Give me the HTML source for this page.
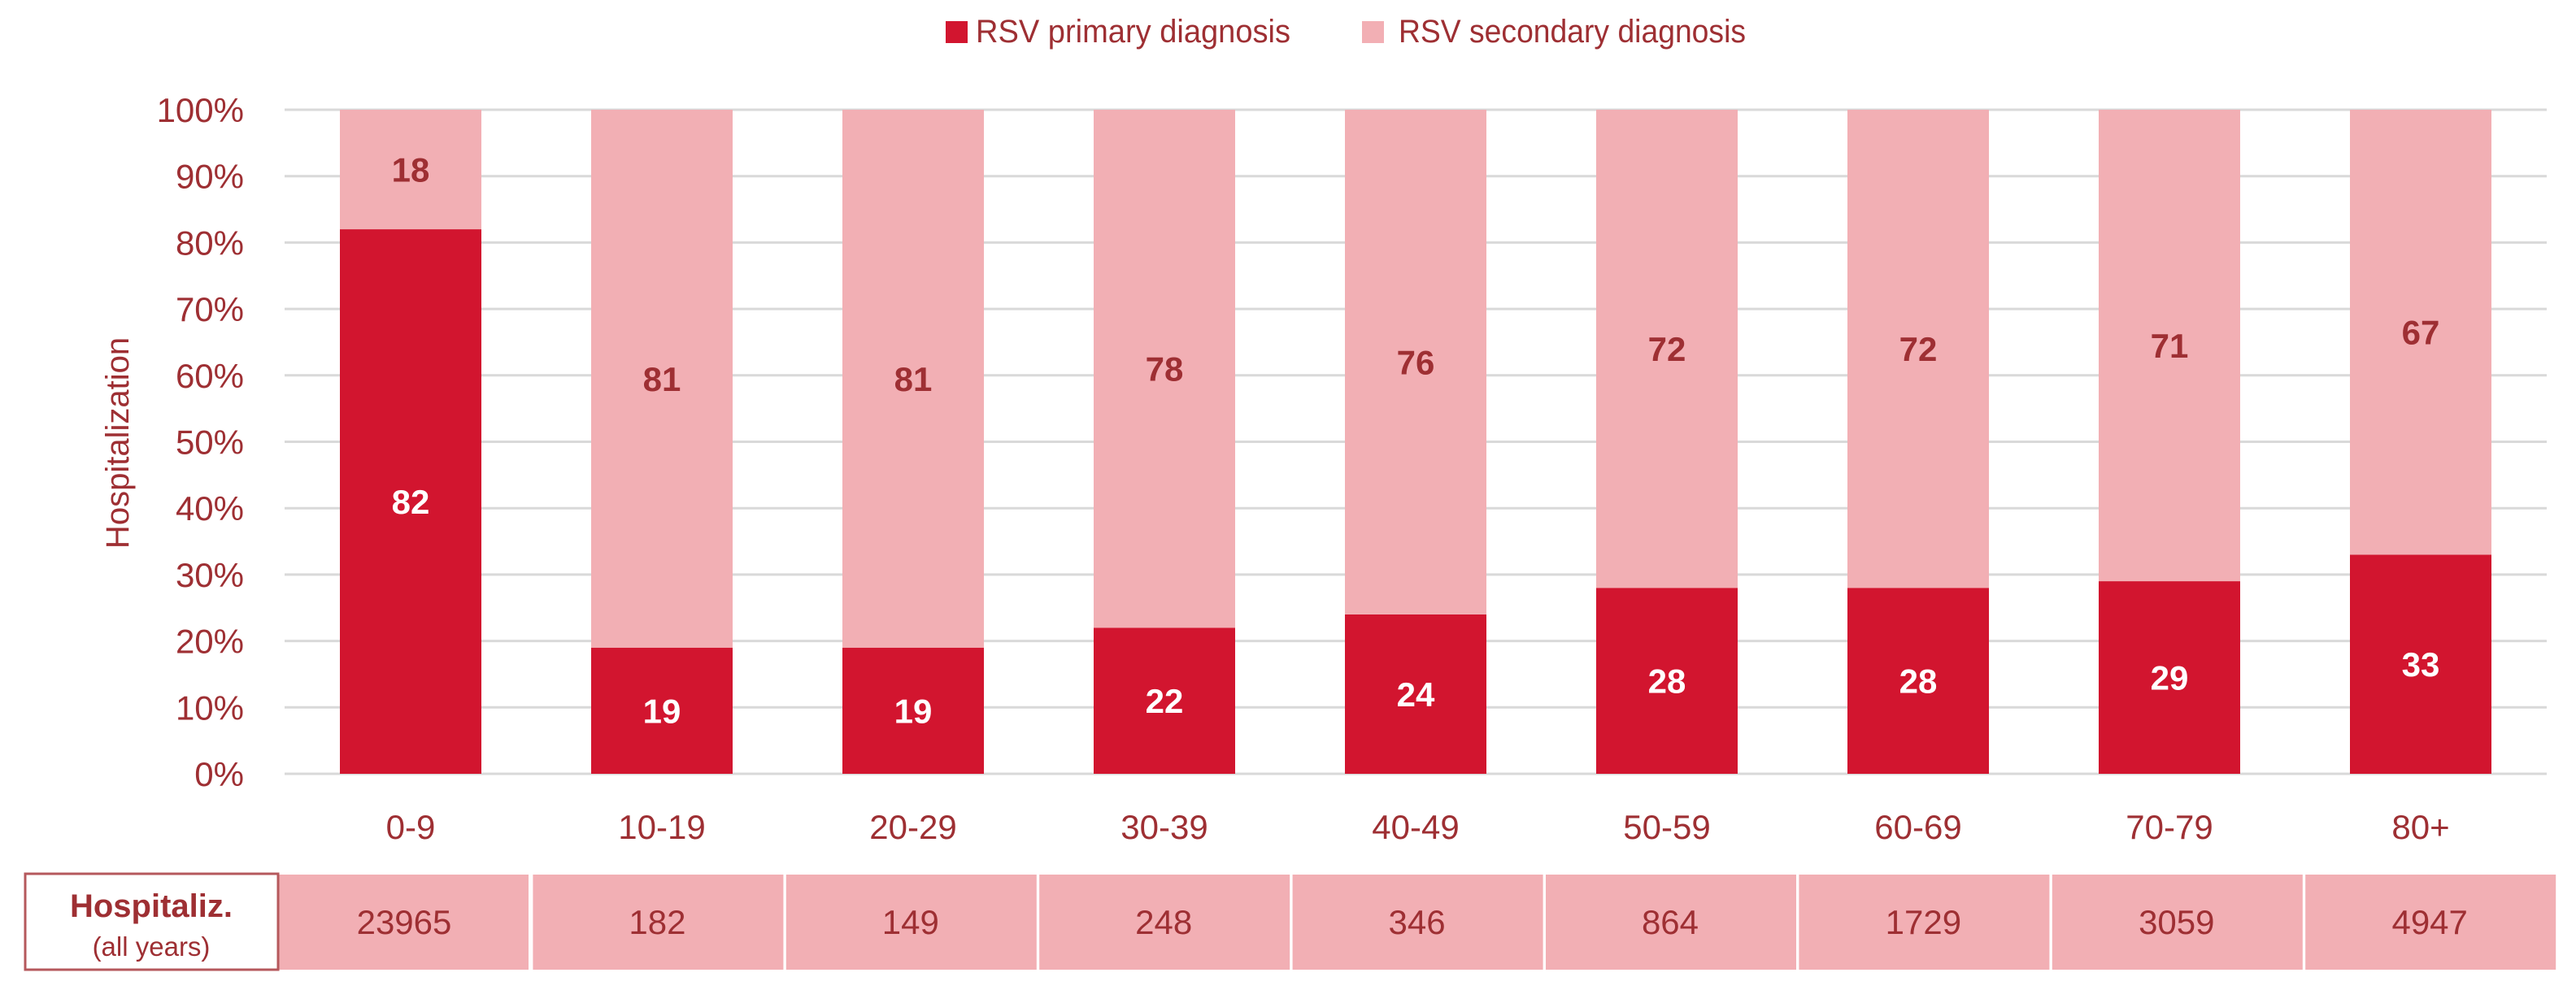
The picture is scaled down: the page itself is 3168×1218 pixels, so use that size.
<!DOCTYPE html>
<html><head><meta charset="utf-8"><style>
html,body{margin:0;padding:0;background:#fff;}
svg{display:block;font-family:"Liberation Sans",sans-serif;}
</style></head><body>
<svg id="chart" width="3168" height="1218" viewBox="0 0 3168 1218" xmlns="http://www.w3.org/2000/svg">
<g id="legend">
 <rect x="1163" y="26" width="27" height="27" fill="#D2152F"/>
 <text x="1200" y="52" font-size="40" fill="#9E2F33" textLength="387" lengthAdjust="spacingAndGlyphs">RSV primary diagnosis</text>
 <rect x="1675" y="26" width="27" height="27" fill="#F2AFB4"/>
 <text x="1720" y="52" font-size="40" fill="#9E2F33" textLength="427" lengthAdjust="spacingAndGlyphs">RSV secondary diagnosis</text>
</g>
<text transform="translate(158,545) rotate(-90)" text-anchor="middle" font-size="40" fill="#9E2F33">Hospitalization</text>
<g id="grid"></g><g id="bars"></g><g id="table"></g>
</svg>
<script>
const categories = ["0-9","10-19","20-29","30-39","40-49","50-59","60-69","70-79","80+"];
const primaryValues = [82,19,19,22,24,28,28,29,33];
const secondaryValues = [18,81,81,78,76,72,72,71,67];
const hospitalizations = ["23965","182","149","248","346","864","1729","3059","4947"];
const yTicks = [0,10,20,30,40,50,60,70,80,90,100];

const NS="http://www.w3.org/2000/svg";
const plotL=350, plotR=3132, plotT=135, plotB=952;
const firstCenter=505, step=309, barW=174;
const y = v => plotB - (v/100)*(plotB-plotT);
const xc = i => firstCenter + i*step;
function mk(tag, attrs, parent, txt){const e=document.createElementNS(NS,tag);for(const k in attrs)e.setAttribute(k,attrs[k]);if(txt!==undefined)e.textContent=txt;parent.appendChild(e);return e;}
const grid=document.getElementById('grid'), bars=document.getElementById('bars'), table=document.getElementById('table');
yTicks.forEach(t=>{
  const l=mk('line',{x1:plotL,x2:plotR,y1:y(t),y2:y(t),stroke:'#D9D9D9','stroke-width':3},grid);
  
  
  const tx=mk('text',{x:300,y:y(t)+15,'text-anchor':'end','font-size':42,fill:'#9E2F33'},grid,t+'%');
  
  
});
categories.forEach((c,i)=>{
  const p=primaryValues[i], s=secondaryValues[i];
  const r1=mk('rect',{x:xc(i)-barW/2,y:y(p),width:barW,height:y(0)-y(p),fill:'#D2152F'},bars);
  
  
  const r2=mk('rect',{x:xc(i)-barW/2,y:y(p+s),width:barW,height:y(p)-y(p+s),fill:'#F2AFB4'},bars);
  
  
  const t1=mk('text',{x:xc(i),y:(y(0)+y(p))/2+15,'text-anchor':'middle','font-size':42,'font-weight':'bold',fill:'#fff'},bars,String(p));
  
  
  const t2=mk('text',{x:xc(i),y:(y(p)+y(p+s))/2+15,'text-anchor':'middle','font-size':42,'font-weight':'bold',fill:'#9E2F33'},bars,String(s));
  
  
  const cl=mk('text',{x:xc(i),y:1032,'text-anchor':'middle','font-size':42,fill:'#9E2F33'},bars,c);
  
  
  const cx0=342+i*311.4;
  const cell=mk('rect',{x:cx0+(i?2:0),y:1076,width:308,height:117,fill:'#F2AFB4'},table);
  
  
  const ct=mk('text',{x:cx0+155,y:1149,'text-anchor':'middle','font-size':42,fill:'#9E2F33'},table,hospitalizations[i]);
  
  
});
const hb=mk('rect',{x:31,y:1075,width:311,height:118,fill:'#fff',stroke:'#B5585C','stroke-width':3},table);


const h1=mk('text',{x:186,y:1128,'text-anchor':'middle','font-size':40,'font-weight':'bold',fill:'#9E2F33'},table,'Hospitaliz.');


const h2=mk('text',{x:186,y:1176,'text-anchor':'middle','font-size':33,fill:'#9E2F33'},table,'(all years)');


</script>
</body></html>
